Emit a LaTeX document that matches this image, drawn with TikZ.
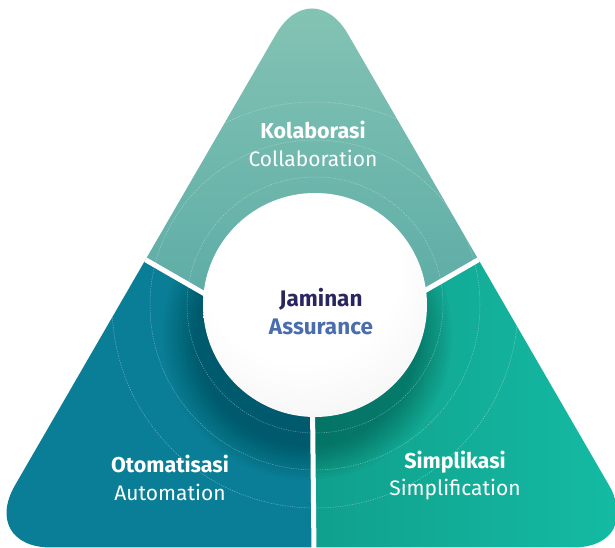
\documentclass[tikz,border=0pt]{standalone}
\usepackage{fontspec}
\setmainfont{Fira Sans}
\usetikzlibrary{calc}

\definecolor{topHi}{HTML}{88C6B5}
\definecolor{topLo}{HTML}{56A8A4}
\definecolor{autoCol}{HTML}{0A7E97}
\definecolor{simpHi}{HTML}{15BDA5}
\definecolor{simpLo}{HTML}{10A08D}
\definecolor{navy}{HTML}{2A2660}
\definecolor{assBlue}{HTML}{4A6DAE}

\pgfdeclareradialshading{sphere}{\pgfpoint{-5bp}{14bp}}{color(0bp)=(white); color(22bp)=(white); color(38bp)=(black!5); color(50bp)=(black!14); color(64bp)=(black!20)}

\tikzset{
  divider/.style={white, line width=5pt},
  ring/.style={white, opacity=0.4, line width=0.5pt, dash pattern=on 1.2pt off 1.2pt},
  head/.style={text=white, font=\bfseries\fontsize{21.5}{24}\selectfont},
  sub/.style={text=white, font=\fontsize{21}{24}\selectfont},
  core/.style={font=\bfseries\fontsize{22.5}{24}\selectfont},
}

\begin{document}
\begin{tikzpicture}[x=1pt,y=1pt]
\useasboundingbox (0,0) rectangle (615,548);

% corners of the triangle, centroid and sphere centre
\coordinate (apex) at (312,576);
\coordinate (bl) at (-21,0.5);
\coordinate (br) at (645,0.5);
\coordinate (G) at (312,192.3);
\coordinate (S) at (315,243);
\coordinate (lm) at ($(apex)!0.5!(bl)$);
\coordinate (rm) at ($(apex)!0.5!(br)$);
\coordinate (bm) at (314,-5);

\begin{scope}
\clip[rounded corners=72pt] (apex) -- (br) -- (bl) -- cycle;

% top part
\begin{scope}
\clip (G) -- ($(G)!3!(lm)$) -- (312,800) -- ($(G)!3!(rm)$) -- cycle;
\shade[top color=topHi, bottom color=topLo] (-50,190) rectangle (700,576);
\end{scope}

% left part
\fill[autoCol] (G) -- ($(G)!3!(lm)$) -- (-300,-50) -- (314,-50) -- cycle;

% right part
\begin{scope}
\clip (G) -- ($(G)!3!(rm)$) -- (900,-50) -- (314,-50) -- cycle;
\shade[left color=simpLo, right color=simpHi] (314,0) rectangle (647,300);
\end{scope}

% soft shadow of the sphere, lower parts only
\begin{scope}
\clip (G) -- ($(G)!3!(lm)$) -- (-300,-50) -- (900,-50) -- ($(G)!3!(rm)$) -- cycle;
\foreach \r in {112,115,...,145}
  \fill[black, opacity=0.024] ($(S)+(-8,-30)$) circle (\r);
\end{scope}

% faint rings
\foreach \r in {128,165,203}
  \draw[ring] (S) circle (\r);
\end{scope}

% white dividers
\draw[divider] (G) -- (lm);
\draw[divider] (G) -- (rm);
\draw[divider] (G) -- (bm);

% sphere
\shade[shading=sphere] (S) circle (112);

\node[head] (kol) at (313,418) {Kolaborasi};
\node[sub] (col) at (313,390) {Collaboration};
\node[head] (oto) at (170,84) {Otomatisasi};
\node[sub] (aut) at (170,56) {Automation};
\node[head] (sim) at (455,86) {Simplikasi};
\node[sub] (spl) at (455,58) {Simplification};
\node[core, text=navy] (jam) at (321,249) {Jaminan};
\node[core, text=assBlue] (asu) at (321,221) {Assurance};
\end{tikzpicture}
\end{document}
